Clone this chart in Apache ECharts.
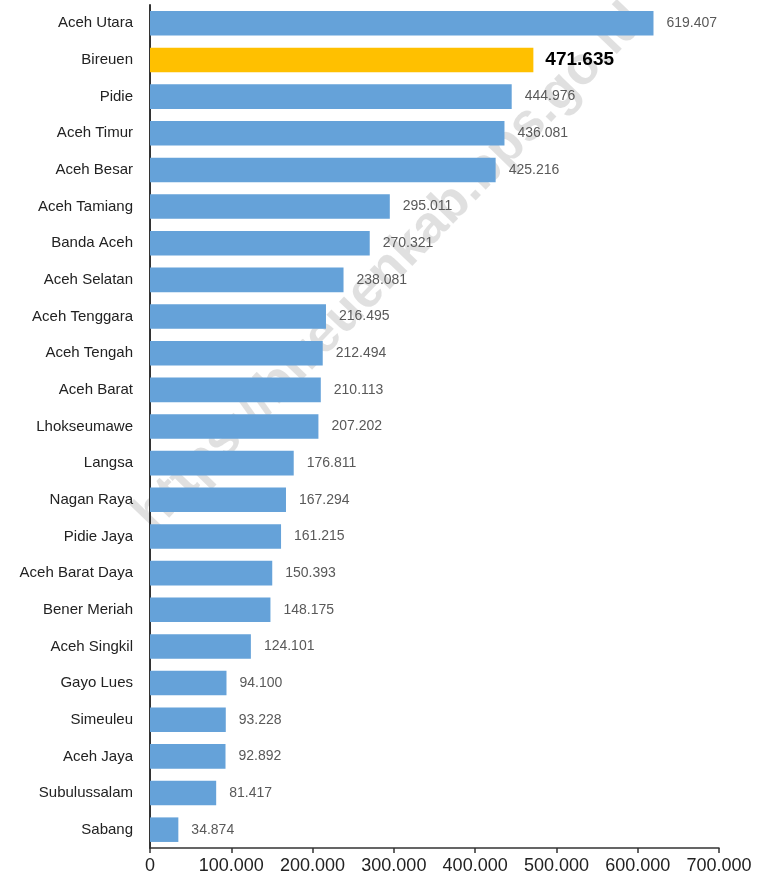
<!DOCTYPE html>
<html>
<head>
<meta charset="utf-8">
<script src="https://cdn.jsdelivr.net/npm/echarts@6/dist/echarts.min.js"></script>
<style>
  html, body { margin: 0; padding: 0; background: #fff; }
  #chart { width: 757px; height: 889px; }
</style>
</head>
<body>
<div id="chart"></div>
<script>
const categories = [
  "Aceh Utara", "Bireuen", "Pidie", "Aceh Timur", "Aceh Besar", "Aceh Tamiang",
  "Banda Aceh", "Aceh Selatan", "Aceh Tenggara", "Aceh Tengah", "Aceh Barat",
  "Lhokseumawe", "Langsa", "Nagan Raya", "Pidie Jaya", "Aceh Barat Daya",
  "Bener Meriah", "Aceh Singkil", "Gayo Lues", "Simeuleu", "Aceh Jaya",
  "Subulussalam", "Sabang"
];
const values = [
  619407, 471635, 444976, 436081, 425216, 295011,
  270321, 238081, 216495, 212494, 210113,
  207202, 176811, 167294, 161215, 150393,
  148175, 124101, 94100, 93228, 92892,
  81417, 34874
];
const highlight = "Bireuen";
const tickValues = [0, 100000, 200000, 300000, 400000, 500000, 600000, 700000];

const FONT = '"Liberation Sans", Arial, sans-serif';

// 1234567 -> "1.234.567"
function fmt(v) {
  return String(v).replace(/\B(?=(\d{3})+(?!\d))/g, ".");
}

const chart = echarts.init(document.getElementById("chart"));

const option = {
  animation: false,
  grid: { left: 150, right: 38, top: 5, bottom: 41, containLabel: false, outerBoundsMode: "none" },
  xAxis: {
    type: "value",
    min: tickValues[0],
    max: tickValues[tickValues.length - 1],
    interval: 100000,
    axisLine: { show: true, lineStyle: { color: "#333", width: 1.5 } },
    axisTick: { show: true, length: 5, lineStyle: { color: "#333", width: 1.5 } },
    splitLine: { show: false },
    axisLabel: {
      formatter: v => fmt(v),
      fontFamily: FONT,
      fontSize: 18,
      color: "#222",
      margin: 9
    }
  },
  yAxis: {
    type: "category",
    inverse: true,
    data: categories,
    axisLine: { show: true, lineStyle: { color: "#333", width: 2 } },
    axisTick: { show: false },
    axisLabel: {
      fontFamily: FONT,
      fontSize: 15,
      color: "#222",
      margin: 17
    }
  },
  series: [
    {
      type: "bar",
      barCategoryGap: "33%",
      data: values.map((v, i) => {
        const isHi = categories[i] === highlight;
        return {
          value: v,
          itemStyle: { color: isHi ? "#FFC000" : "#65A2D9" },
          label: isHi
            ? { fontWeight: "bold", fontSize: 19, color: "#000", distance: 12 }
            : {}
        };
      }),
      label: {
        show: true,
        position: "right",
        distance: 13,
        fontFamily: FONT,
        fontSize: 14,
        color: "#595959",
        formatter: p => fmt(p.value)
      }
    }
  ],
  graphic: [
    {
      type: "text",
      x: 390,
      y: 268,
      rotation: Math.PI / 180 * 46,
      silent: true,
      style: {
        text: "https://bireuenkab.bps.go.id",
        fontFamily: FONT,
        fontWeight: "bold",
        fontSize: 53,
        fill: "rgba(0,0,0,0.12)",
        align: "center",
        verticalAlign: "middle"
      }
    }
  ]
};

chart.setOption(option);
</script>
</body>
</html>
